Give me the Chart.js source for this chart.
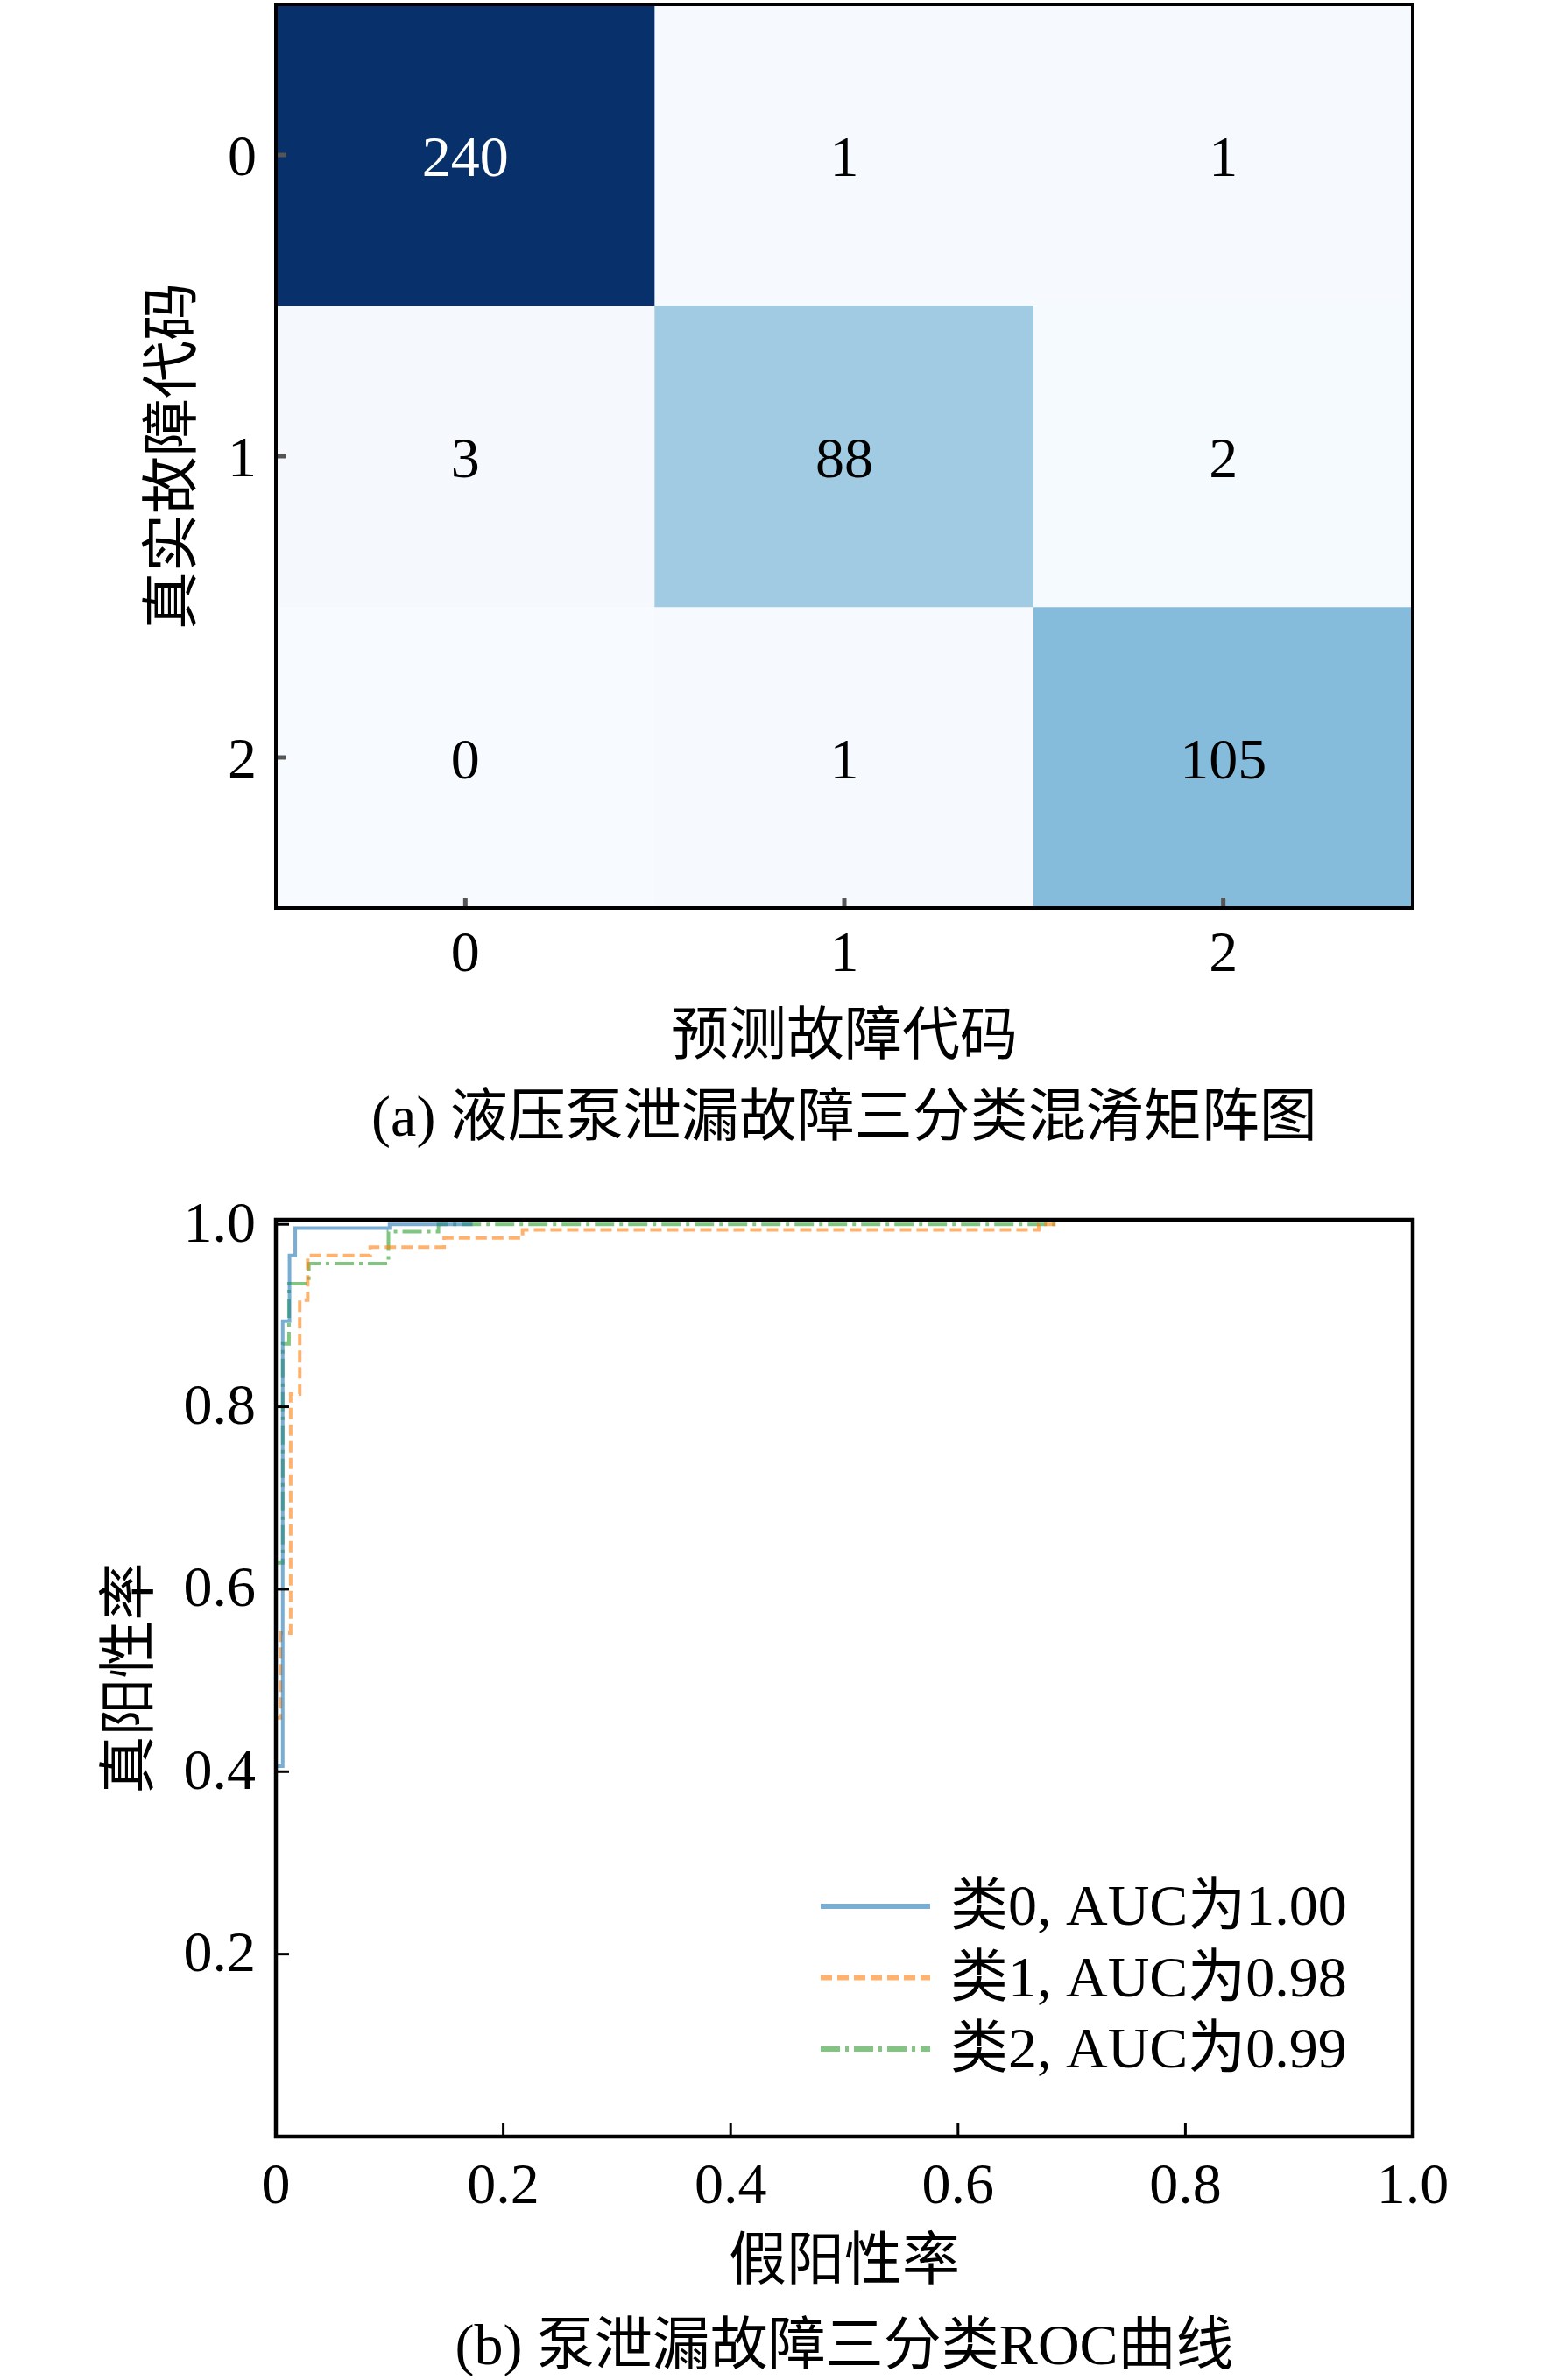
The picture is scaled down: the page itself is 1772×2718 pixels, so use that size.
<!DOCTYPE html>
<html>
<head>
<meta charset="utf-8">
<script src="https://cdn.jsdelivr.net/npm/chart.js@4.4.1/dist/chart.umd.min.js"></script>
<style>
html,body{margin:0;padding:0;background:#fff;}
body{width:1772px;height:2718px;position:relative;overflow:hidden;}
canvas{position:absolute;left:0;}
.cap{position:absolute;left:164px;width:1600px;text-align:center;font-family:"Liberation Serif","Noto Sans CJK SC",serif;font-size:66px;line-height:80px;color:#000;white-space:nowrap;}
</style>
</head>
<body>
<canvas id="cm" width="1772" height="1240" style="top:0px;width:1772px;height:1240px;"></canvas>
<div class="cap" style="top:1235px;">(a) 液压泵泄漏故障三分类混淆矩阵图</div>
<canvas id="roc" width="1772" height="1285" style="top:1340px;width:1772px;height:1285px;"></canvas>
<div class="cap" style="top:2638px;">(b) 泵泄漏故障三分类ROC曲线</div>
<script>
// ---------------- data ----------------
const predLabels = ['0', '1', '2'];
const trueLabels = ['0', '1', '2'];
const cmRow0 = [240, 1, 1];
const cmRow1 = [3, 88, 2];
const cmRow2 = [0, 1, 105];

const fpr0 = [0, 0, 0.006, 0.006, 0.012, 0.012, 0.017, 0.017, 0.10, 0.10, 0.173];
const tpr0 = [0, 0.406, 0.406, 0.894, 0.894, 0.966, 0.966, 0.996, 0.996, 1.0, 1.0];
const fpr1 = [0, 0, 0.004, 0.004, 0.013, 0.013, 0.021, 0.021, 0.028, 0.028, 0.083, 0.083, 0.148, 0.148, 0.217, 0.217, 0.671, 0.671, 0.69];
const tpr1 = [0, 0.459, 0.459, 0.552, 0.552, 0.814, 0.814, 0.917, 0.917, 0.966, 0.966, 0.975, 0.975, 0.985, 0.985, 0.994, 0.994, 1.0, 1.0];
const fpr2 = [0, 0, 0.006, 0.006, 0.0115, 0.0115, 0.029, 0.029, 0.099, 0.099, 0.143, 0.143, 0.69];
const tpr2 = [0, 0.629, 0.629, 0.869, 0.869, 0.935, 0.935, 0.957, 0.957, 0.992, 0.992, 1.0, 1.0];
const classNames = ['类0', '类1', '类2'];
const aucValues = ['1.00', '0.98', '0.99'];

const rocXTicks = [0, 0.2, 0.4, 0.6, 0.8, 1.0];
const rocXTickLabels = ['0', '0.2', '0.4', '0.6', '0.8', '1.0'];
const rocYTicks = [0.2, 0.4, 0.6, 0.8, 1.0];
const rocYTickLabels = ['0.2', '0.4', '0.6', '0.8', '1.0'];

// ---------------- style ----------------
const FONT = '"Liberation Serif", "Noto Sans CJK SC", serif';
Chart.defaults.font.family = FONT;
Chart.defaults.color = '#000';
const BLUES = [[247,251,255],[222,235,247],[198,219,239],[158,202,225],[107,174,214],[66,146,198],[33,113,181],[8,81,156],[8,48,107]];
function blues(t) {
  t = Math.max(0, Math.min(1, t));
  const p = t * (BLUES.length - 1);
  const i = Math.min(Math.floor(p), BLUES.length - 2);
  const f = p - i;
  const c = BLUES[i].map((v, k) => Math.round(v + (BLUES[i + 1][k] - v) * f));
  return `rgb(${c[0]},${c[1]},${c[2]})`;
}

const cmRows = [cmRow0, cmRow1, cmRow2];
const cmMax = Math.max(...cmRows.flat());

function noPadX(s, h) { s.height = h; s.paddingLeft = 0; s.paddingRight = 0; }
function noPadY(s, w) { s.width = w; s.paddingTop = 0; s.paddingBottom = 0; }

const framePlugin = {
  id: 'frame',
  afterDraw(chart, args, opts) {
    const {ctx, chartArea: a} = chart;
    ctx.save();
    const xs = chart.scales.x, ys = chart.scales.y;
    ctx.strokeStyle = opts.tickColor;
    ctx.lineWidth = opts.tickWidth;
    xs.ticks.forEach(t => {
      const px = xs.getPixelForValue(t.value);
      ctx.beginPath(); ctx.moveTo(px, a.bottom); ctx.lineTo(px, a.bottom - opts.tickLen); ctx.stroke();
    });
    ys.ticks.forEach(t => {
      const py = ys.getPixelForValue(t.value);
      ctx.beginPath(); ctx.moveTo(a.left, py); ctx.lineTo(a.left + opts.tickLen, py); ctx.stroke();
    });
    ctx.strokeStyle = '#000';
    ctx.lineWidth = opts.width;
    ctx.strokeRect(a.left, a.top, a.right - a.left, a.bottom - a.top);
    ctx.restore();
  }
};

const cellTextPlugin = {
  id: 'cellText',
  afterDatasetsDraw(chart) {
    const {ctx} = chart;
    const xs = chart.scales.x, ys = chart.scales.y;
    ctx.save();
    ctx.font = '66px ' + FONT;
    ctx.textAlign = 'center';
    ctx.textBaseline = 'middle';
    cmRows.forEach((row, r) => {
      row.forEach((v, c) => {
        ctx.fillStyle = v > cmMax / 2 ? '#fff' : '#000';
        ctx.fillText(String(v), xs.getPixelForValue(c), ys.getPixelForValue(r) + 7);
      });
    });
    ctx.restore();
  }
};

// ---------------- confusion matrix ----------------
new Chart(document.getElementById('cm'), {
  type: 'bar',
  data: {
    labels: predLabels,
    datasets: cmRows.map((row, r) => ({
      data: row.map(() => [r - 0.5, r + 0.5]),
      backgroundColor: row.map(v => blues(v / cmMax)),
      borderWidth: 0,
      grouped: false,
      barPercentage: 1,
      categoryPercentage: 1
    }))
  },
  options: {
    responsive: false,
    animation: false,
    devicePixelRatio: 1,
    layout: {padding: {left: 0, right: 159, top: 5, bottom: 0}},
    plugins: {legend: {display: false}, tooltip: {enabled: false}, frame: {width: 4, tickLen: 12, tickWidth: 5, tickColor: '#555'}},
    scales: {
      x: {
        type: 'category',
        offset: true,
        grid: {display: false, drawTicks: false},
        border: {display: false},
        ticks: {font: {size: 66}, color: '#000', padding: 15},
        title: {display: true, text: '预测故障代码', font: {size: 66}, color: '#000', padding: {top: 0, bottom: 14}},
        afterFit(s) { noPadX(s, 203); }
      },
      y: {
        type: 'linear',
        min: -0.5, max: 2.5,
        reverse: true,
        grid: {display: false, drawTicks: false},
        border: {display: false},
        afterBuildTicks(s) { s.ticks = trueLabels.map((_, i) => ({value: i})); },
        ticks: {font: {size: 66}, color: '#000', padding: 22, labelOffset: 6, callback: (v) => trueLabels[v]},
        title: {display: true, text: '真实故障代码', font: {size: 66}, color: '#000', padding: {top: 161, bottom: 0}},
        afterFit(s) { noPadY(s, 315); }
      }
    }
  },
  plugins: [cellTextPlugin, framePlugin]
});

// ---------------- ROC ----------------
const rocColors = ['rgba(31,119,180,0.6)', 'rgba(255,127,14,0.6)', 'rgba(44,160,44,0.6)'];
const rocDashes = [[], [13, 6], [22, 6, 4, 6]];
const rocSets = [[fpr0, tpr0], [fpr1, tpr1], [fpr2, tpr2]];

const legendPlugin = {
  id: 'customLegend',
  afterDatasetsDraw(chart) {
    const {ctx, chartArea: a} = chart;
    const n = chart.data.datasets.length;
    ctx.save();
    ctx.font = '66px ' + FONT;
    ctx.textAlign = 'left';
    ctx.textBaseline = 'middle';
    chart.data.datasets.forEach((ds, i) => {
      const y = a.bottom - 100 - (n - 1 - i) * 81.5;
      ctx.strokeStyle = ds.borderColor;
      ctx.lineWidth = 6;
      ctx.setLineDash(ds.borderDash || []);
      ctx.beginPath(); ctx.moveTo(a.right - 676, y); ctx.lineTo(a.right - 551, y); ctx.stroke();
      ctx.setLineDash([]);
      ctx.fillStyle = '#000';
      ctx.fillText(ds.label, a.right - 528, y + 4);
    });
    ctx.restore();
  }
};

new Chart(document.getElementById('roc'), {
  type: 'line',
  data: {
    datasets: rocSets.map(([f, t], i) => ({
      label: classNames[i] + ', AUC为' + aucValues[i],
      data: f.map((x, k) => ({x: x, y: t[k]})),
      borderColor: rocColors[i],
      borderWidth: 4,
      borderDash: rocDashes[i],
      pointRadius: 0,
      fill: false,
      tension: 0
    }))
  },
  options: {
    responsive: false,
    animation: false,
    devicePixelRatio: 1,
    layout: {padding: {left: 0, right: 159, top: 53, bottom: 0}},
    plugins: {legend: {display: false}, tooltip: {enabled: false}, frame: {width: 4.5, tickLen: 15, tickWidth: 3, tickColor: '#000'}},
    scales: {
      x: {
        type: 'linear', min: 0, max: 1,
        grid: {display: false, drawTicks: false},
        border: {display: false},
        afterBuildTicks(s) { s.ticks = rocXTicks.map(v => ({value: v})); },
        ticks: {font: {size: 66}, color: '#000', padding: 19, callback: (v) => rocXTickLabels[rocXTicks.indexOf(v)]},
        title: {display: true, text: '假阳性率', font: {size: 66}, color: '#000', padding: {top: 0, bottom: 0}},
        afterFit(s) { noPadX(s, 185); }
      },
      y: {
        type: 'linear', min: 0, max: 1.005,
        grid: {display: false, drawTicks: false},
        border: {display: false},
        afterBuildTicks(s) { s.ticks = rocYTicks.map(v => ({value: v})); },
        ticks: {font: {size: 66}, color: '#000', padding: 23, labelOffset: 2, callback: (v) => rocYTickLabels[rocYTicks.indexOf(v)]},
        title: {display: true, text: '真阳性率', font: {size: 66}, color: '#000', padding: {top: 112, bottom: 0}},
        afterFit(s) { noPadY(s, 315); }
      }
    }
  },
  plugins: [legendPlugin, framePlugin]
});
</script>
</body>
</html>
